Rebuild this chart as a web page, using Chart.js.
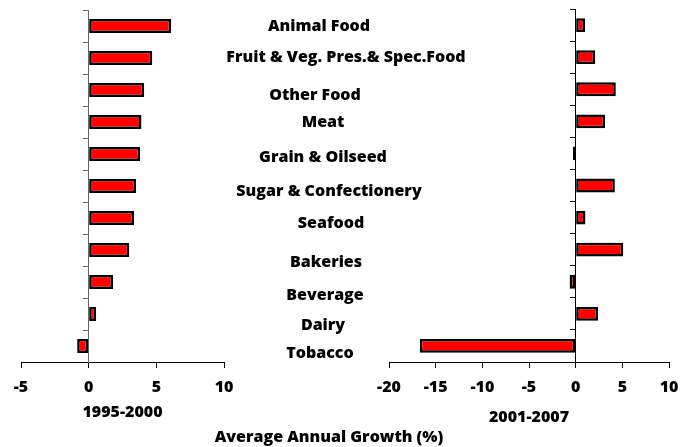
<!DOCTYPE html>
<html>
<head>
<meta charset="utf-8">
<script src="https://cdn.jsdelivr.net/npm/chart.js@4.4.0/dist/chart.umd.min.js"></script>
<style>
  html, body { margin: 0; padding: 0; background: #fff; }
  #wrap { position: relative; width: 689px; height: 447px; }
  #wrap canvas { position: absolute; left: 0; top: 0; }
  #xtitle { position: absolute; left: 0; width: 658px; top: 425px; line-height: 18px;
            text-align: center; font: 800 16px "Open Sans"; color: #000; }
</style>
</head>
<body>
<div id="wrap">
  <canvas id="left" width="689" height="447"></canvas>
  <canvas id="right" width="689" height="447"></canvas>
  <div id="xtitle">Average Annual Growth (%)</div>
</div>
<script>
const categories = ['Animal Food', 'Fruit & Veg. Pres.& Spec.Food', 'Other Food', 'Meat',
  'Grain & Oilseed', 'Sugar & Confectionery', 'Seafood', 'Bakeries', 'Beverage', 'Dairy', 'Tobacco'];
const growth9500 = [6.1, 4.7, 4.1, 3.9, 3.8, 3.5, 3.35, 3.0, 1.8, 0.55, -0.85];
const growth0107 = [1.0, 2.1, 4.3, 3.15, -0.3, 4.2, 1.05, 5.1, -0.65, 2.4, -16.7];
const xTicks9500 = [-5, 0, 5, 10];
const xTicks0107 = [-20, -15, -10, -5, 0, 5, 10];

// the category labels in the middle sit a little off the bar centres
const labelDx = [-6, 21, -10, -2, -2, 4, 6, 1, 0, -2, -5];
const labelDy = [0, -1, 5, 0, 3, 5, 5, 12, 13, 11, 7];

const FONT = { family: '"Open Sans"', size: 16, weight: 800 };

const centreLabels = {
  id: 'centreLabels',
  afterDraw(chart) {
    const ctx = chart.ctx, y = chart.scales.y;
    ctx.save();
    ctx.font = '800 16px "Open Sans"';
    ctx.fillStyle = '#000';
    ctx.textAlign = 'center';
    ctx.textBaseline = 'middle';
    categories.forEach((c, i) => {
      ctx.fillText(c, 325 + labelDx[i], y.getPixelForValue(i) + labelDy[i]);
    });
    ctx.restore();
  }
};

function panel(values, xTicks, title, o) {
  return {
    type: 'bar',
    data: {
      labels: categories,
      datasets: [{
        data: values,
        backgroundColor: '#ff0000',
        borderColor: '#000',
        borderWidth: 2.5,
        borderSkipped: false,
        barPercentage: 0.43,
        categoryPercentage: 1
      }]
    },
    options: {
      indexAxis: 'y',
      responsive: false,
      animation: false,
      layout: { padding: o.padding },
      plugins: { legend: { display: false }, tooltip: { enabled: false } },
      scales: {
        x: {
          min: xTicks[0], max: xTicks[xTicks.length - 1],
          afterFit: s => { s.height = 85; },
          ticks: { stepSize: xTicks[1] - xTicks[0], padding: 10, color: '#000', font: FONT },
          grid: { drawOnChartArea: false, tickLength: 6, color: '#000' },
          border: { color: '#000' },
          title: { display: true, text: title, color: '#000', font: FONT,
                   padding: { top: 0, bottom: o.titleBottom } }
        },
        y: {
          position: { x: 0 },
          ticks: { display: false },
          grid: { drawOnChartArea: false, tickLength: 5, color: o.axis, offset: true },
          border: { color: o.axis }
        }
      }
    },
    plugins: o.plugins || []
  };
}

new Chart(document.getElementById('left'), panel(growth9500, xTicks9500, '1995-2000',
  { padding: { left: 21, right: 465, top: 10, bottom: 0 }, titleBottom: 25, axis: '#666', plugins: [centreLabels] }));
new Chart(document.getElementById('right'), panel(growth0107, xTicks0107, '2001-2007',
  { padding: { left: 389, right: 20, top: 9, bottom: 0 }, titleBottom: 20, axis: '#000' }));
</script>
</body>
</html>
